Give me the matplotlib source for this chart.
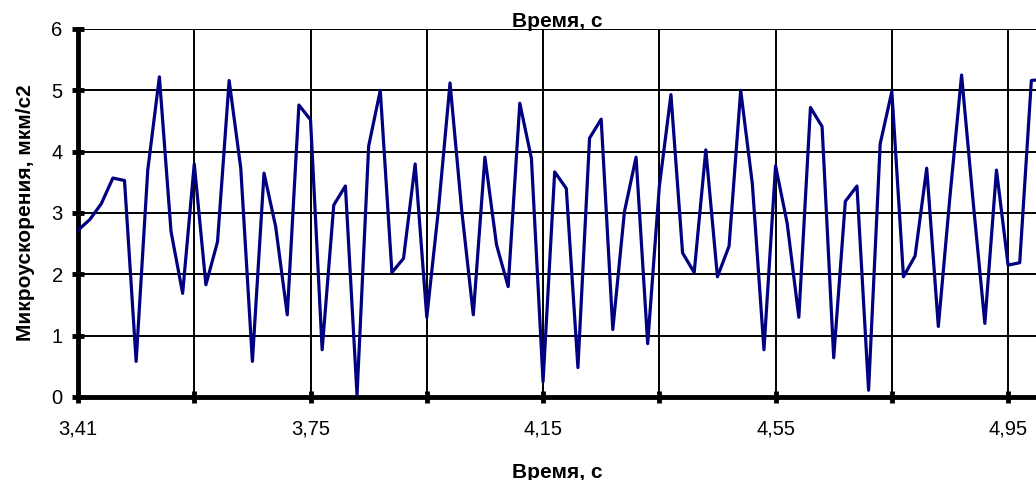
import matplotlib
matplotlib.use("Agg")
import matplotlib.pyplot as plt

plt.rcParams['font.family'] = ['Liberation Sans', 'DejaVu Sans']

# sample index -> value (microacceleration, um/s^2)
values = [2.72, 2.89, 3.15, 3.57, 3.53, 0.58, 3.70, 5.22, 2.70, 1.69,
          3.80, 1.83, 2.53, 5.16, 3.73, 0.58, 3.65, 2.78, 1.34, 4.76,
          4.52, 0.77, 3.13, 3.44, 0.03, 4.09, 5.00, 2.03, 2.26, 3.80,
          1.30, 3.05, 5.12, 3.05, 1.34, 3.91, 2.48, 1.80, 4.79, 3.89,
          0.25, 3.67, 3.40, 0.48, 4.22, 4.53, 1.10, 3.02, 3.91, 0.87,
          3.43, 4.93, 2.35, 2.03, 4.03, 1.96, 2.46, 5.00, 3.48, 0.77,
          3.77, 2.83, 1.30, 4.72, 4.41, 0.64, 3.19, 3.44, 0.11, 4.13,
          4.98, 1.96, 2.30, 3.73, 1.15, 3.27, 5.25, 3.17, 1.20, 3.70,
          2.15, 2.19, 5.16, 5.18]
time_labels = ['3,41', '', '3,75', '', '4,15', '', '4,55', '', '4,95']
y_ticks = [0, 1, 2, 3, 4, 5, 6]

fig = plt.figure(figsize=(10.36, 4.8), dpi=100)
ax = fig.add_axes([78 / 1036, 83 / 480, 958 / 1036, 368 / 480])

ax.plot(range(len(values)), values, color='#000080', lw=2.3, zorder=3)

ax.set_xlim(0, 82.4)
ax.set_ylim(0, 6)
ax.set_xticks(range(0, 81, 10))
ax.set_xticklabels(time_labels)
ax.set_yticks(y_ticks)
ax.grid(True, color='black', lw=1.4)

for side in ['top', 'right']:
    ax.spines[side].set_visible(False)
for side in ['left', 'bottom']:
    ax.spines[side].set_linewidth(3.5)

ax.tick_params(direction='inout', length=8, width=3.5, labelsize=14.5)
ax.tick_params(axis='x', pad=12)
ax.tick_params(axis='y', pad=7)

ax.set_xlabel('Время, с', fontsize=15, fontweight='bold')
ax.xaxis.set_label_coords(0.5, -0.179)
ax.set_ylabel('Микроускорения, мкм/с2', fontsize=15, fontweight='bold')
ax.yaxis.set_label_coords(-0.045, 0.5)
fig.text(557 / 1036, 1 - 27 / 480, 'Время, с', ha='center', va='baseline',
         fontsize=15, fontweight='bold')

fig.savefig('out.png', dpi=100)
